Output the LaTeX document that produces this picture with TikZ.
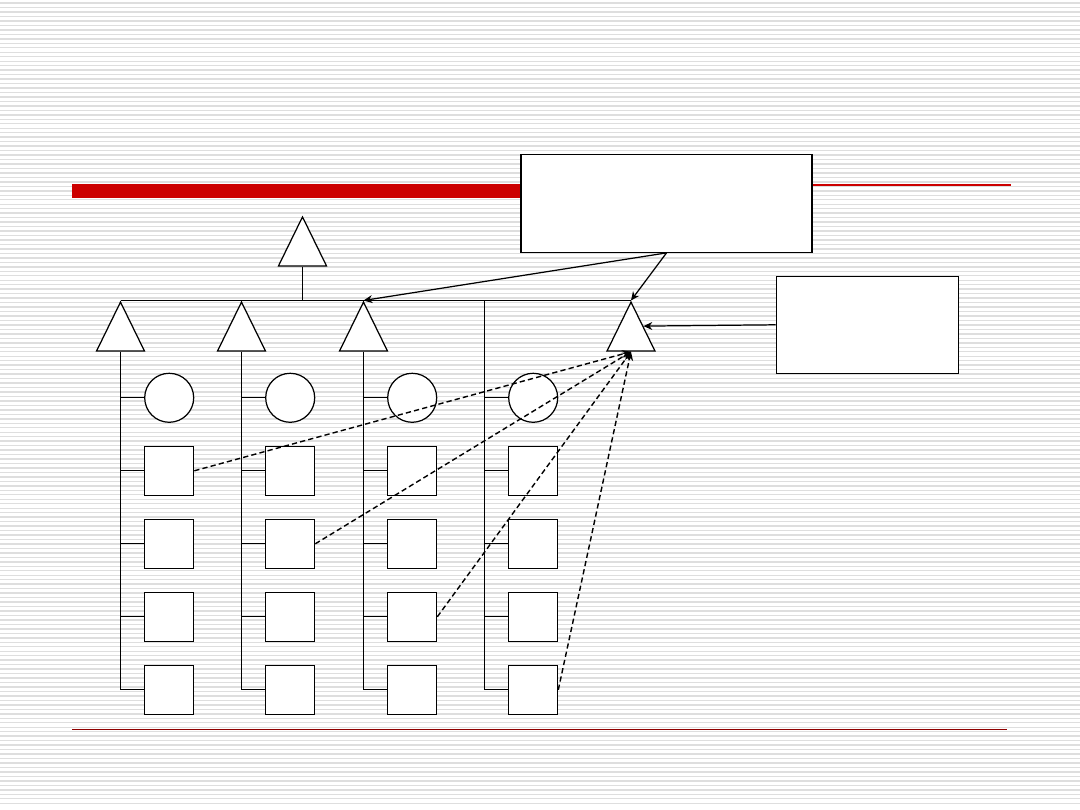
\documentclass[tikz,border=0pt]{standalone}
\usepackage{tikz}
\usepackage{xcolor}
\usetikzlibrary{shapes.geometric,arrows.meta}
\tikzset{>={Stealth[length=5pt,width=4.5pt]}}
\definecolor{barred}{HTML}{CC0000}
\definecolor{stripe}{HTML}{DEDEDE}
\tikzset{
  tri/.style={draw, fill=white, isosceles triangle, isosceles triangle stretches,
    shape border rotate=90, minimum width=0.96cm, minimum height=0.98cm,
    inner sep=0pt, anchor=apex},
  ring/.style={draw, fill=white, circle, minimum size=0.98cm, inner sep=0pt},
  cell/.style={draw, fill=white, minimum size=0.98cm, inner sep=0pt},
  panel/.style={draw, fill=white, inner sep=0pt},
  feed/.style={line width=0.8pt, dash pattern=on 3pt off 1.8pt, ->}
}

\begin{document}
\begin{tikzpicture}[x=0.02cm, y=-0.02cm, line width=0.7pt]
      \useasboundingbox (0,0) rectangle (1080,810);
      % striped background
      \foreach \k in {0,...,179}
        \fill[stripe] (0,\k*4.47+2.4) rectangle (1080,\k*4.47+3.8);
      \fill[barred] (71.5,184) rectangle (600,198);
      \draw[barred, line width=1pt] (700,184.7) -- (1011,184.7);
      \draw[barred!70!black, line width=0.5pt] (72,729) -- (1007,729);
      % boxes
      \node[panel, minimum width=5.82cm, minimum height=1.96cm] (b1) at (666.5,203.3) {};
      \node[panel, minimum width=3.64cm, minimum height=1.94cm] (b2) at (867.3,324.8) {};
      % top level
      \node[tri] (t0) at (302.5,215.3) {};
      \coordinate (top1) at (120.5,300.5);
      \coordinate (top4) at (484.5,300.5);
      \draw (t0.lower side) -- (t0.lower side |- top1);
      \node[tri] (tr) at (631,300.5) {};
      \draw (top1) -- (tr.apex);
      % columns
      \foreach \c [count=\i] in {120.5,241.5,363.5,484.5} {
        \node[ring] (c\i) at (\c+48.7,397.8) {};
        \foreach \r in {1,...,4}
          \node[cell] (s\i\r) at (\c+48.7,397.8+73*\r) {};
      }
      \node[tri] (t1) at (top1) {};
      \node[tri] (t2) at (241.5,300.5) {};
      \node[tri] (t3) at (363.5,300.5) {};
      \foreach \i in {1,2,3} {
        \draw (t\i.lower side) |- (s\i4.west);
        \draw (t\i.lower side |- c\i.west) -- (c\i.west);
        \foreach \r in {1,2,3}
          \draw (t\i.lower side |- s\i\r.west) -- (s\i\r.west);
      }
      \draw (top4) |- (s44.west);
      \draw (top4 |- c4.west) -- (c4.west);
      \foreach \r in {1,2,3}
        \draw (top4 |- s4\r.west) -- (s4\r.west);
      % links
      \draw[->] (b1.south) -- (t3.apex);
      \draw[->] (b1.south) -- (tr.apex);
      \draw[->] (b2.west) -- (tr.right side);
      \foreach \n in {s11,s22,s33,s44}
        \draw[feed] (\n.east) -- (tr.lower side);
    \end{tikzpicture}
\end{document}
